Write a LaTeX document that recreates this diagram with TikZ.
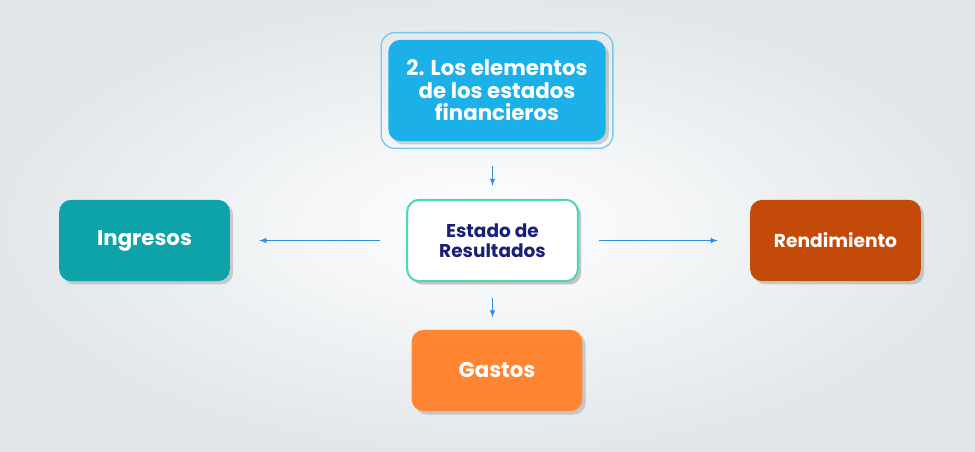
\documentclass[tikz,border=0pt]{standalone}
\usepackage{fontspec}
\setmainfont{Poppins}
\usetikzlibrary{shadows,fit}

\definecolor{bgGray}{RGB}{226,231,234}
\definecolor{topBlue}{RGB}{27,176,232}
\definecolor{frameBlue}{RGB}{120,200,235}
\definecolor{edoTeal}{RGB}{78,214,184}
\definecolor{edoNavy}{RGB}{26,32,120}
\definecolor{ingTeal}{RGB}{14,163,168}
\definecolor{renBrown}{RGB}{196,74,10}
\definecolor{gasOrange}{RGB}{255,133,51}
\definecolor{arrBlue}{RGB}{42,140,232}

\tikzset{every picture/.style={line width=0.75pt}}
\tikzset{
  box/.style={rounded corners=9pt, minimum width=128pt, minimum height=61pt,
    align=center, font=\bfseries, text=white, inner sep=0.75pt,
    drop shadow={shadow xshift=2.5pt, shadow yshift=-2.5pt, opacity=0.35, fill=gray}},
  link/.style={draw=arrBlue, line width=0.8pt, -latex}
}

\begin{document}
\begin{tikzpicture}[x=0.75pt,y=0.75pt,yscale=-1,xscale=1]
%background
\shade [inner color=white, outer color=bgGray] (0,0) rectangle (975,452);
\useasboundingbox (0,0) rectangle (975,452);

%Top box
\node [box, fill=topBlue, minimum width=163pt, minimum height=76pt, font=\bfseries\fontsize{16}{16.9}\selectfont] (elementos) at (497,90.5) {2. Los elementos\\de los estados\\financieros};
\node [draw=frameBlue, line width=1pt, rounded corners=10pt, fit=(elementos), inner sep=5pt] (marco) {};
%Center box
\node [box, fill=white, draw=edoTeal, line width=1.5pt, text=edoNavy, font=\bfseries\fontsize{13.9}{15}\selectfont, drop shadow={opacity=0.12}] (estado) at (492.5,240.5) {Estado de\\Resultados};
%Side boxes
\node [box, fill=ingTeal, font=\bfseries\fontsize{16}{17}\selectfont] (ingresos) at (144.5,240.5) {Ingresos};
\node [box, fill=renBrown, font=\bfseries\fontsize{14}{15}\selectfont] (rendimiento) at (835.5,240.5) {Rendimiento};
\node [box, fill=gasOrange, font=\bfseries\fontsize{16}{17}\selectfont] (gastos) at (497,370.5) {Gastos};

%Arrows
\draw [link, shorten <=12.75, shorten >=9.75] (marco.south -| estado.north) -- (estado.north);
\draw [link, shorten <=12, shorten >=9] (estado.south) -- (gastos.north -| estado.south);
\draw [link, shorten <=19.5, shorten >=21.75] (estado.west) -- (ingresos.east);
\draw [link, shorten <=15, shorten >=24] (estado.east) -- (rendimiento.west);

\end{tikzpicture}
\end{document}
